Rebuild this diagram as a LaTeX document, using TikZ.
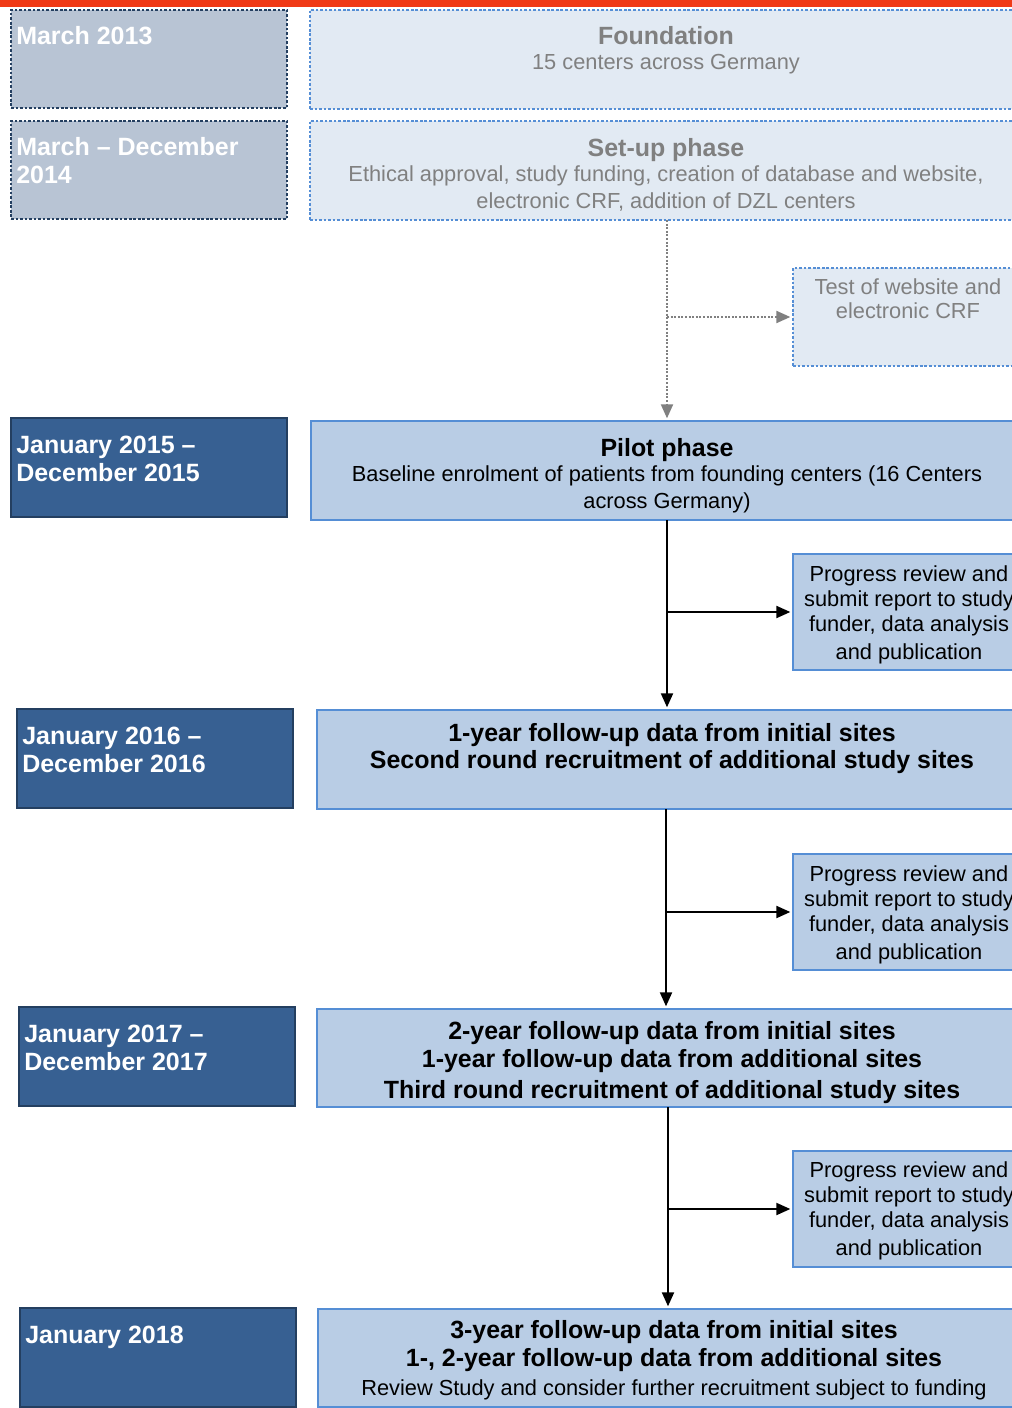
\documentclass[tikz,border=0pt]{standalone}
\usepackage{fontspec}
\setmainfont{Liberation Sans}
\usetikzlibrary{arrows.meta,calc}
\definecolor{topred}{HTML}{F03A17}
\definecolor{lgray}{HTML}{B8C4D4}
\definecolor{navy}{HTML}{376092}
\definecolor{navyb}{HTML}{243F60}
\definecolor{pale}{HTML}{E2EAF3}
\definecolor{dotblue}{HTML}{558ED5}
\definecolor{mblue}{HTML}{B9CDE5}
\definecolor{bblue}{HTML}{558ED5}
\definecolor{txtgray}{HTML}{808080}
\newcommand\boxat[6]{\node[#1, anchor=north west, inner sep=0pt, outer sep=0pt,
  minimum width={(#5-#3)*0.75pt}, minimum height={(#6-#4)*0.75pt}] (#2) at (#3,#4) {};}
\tikzset{
  lightlbl/.style={fill=lgray, draw=navyb, line width=2pt, dash pattern=on 2pt off 1.4pt},
  darklbl/.style={fill=navy, draw=navyb, line width=1.6pt},
  dotbox/.style={fill=pale, draw=dotblue, line width=2pt, dash pattern=on 2pt off 1.4pt},
  mainbox/.style={fill=mblue, draw=bblue, line width=1.9pt},
  lbltext/.style={text=white, font=\fontsize{18.75}{22}\selectfont\bfseries, inner sep=0pt, anchor=base west},
  hd/.style={font=\fontsize{18.7}{21}\selectfont\bfseries, inner sep=0pt, anchor=base},
  rg/.style={font=\fontsize{16.35}{19}\selectfont, inner sep=0pt, anchor=base},
  gr/.style={text=txtgray},
  arr/.style={draw=black, line width=1.5pt, -{Triangle[length=10.5pt,width=9pt]}},
  garr/.style={draw=txtgray, line width=1.5pt, dash pattern=on 1.5pt off 1.2pt,
    -{Triangle[length=10.5pt,width=9pt,fill=txtgray]}},
}
\begin{document}
\begin{tikzpicture}[x=0.75pt,y=-0.75pt]
\useasboundingbox (0,0) rectangle (1012,1408);
\clip (0,0) rectangle (1012,1408);
\fill[topred] (0,0) rectangle (1012,7);

% left labels
\boxat{lightlbl}{L1}{11}{10}{287}{108}
\boxat{lightlbl}{L2}{11}{121}{287}{219}
\boxat{darklbl}{L3}{11}{418}{287}{517}
\boxat{darklbl}{L4}{17}{709}{293}{808}
\boxat{darklbl}{L5}{19}{1007}{295}{1106}
\boxat{darklbl}{L6}{20}{1308}{296}{1407}

\node[lbltext] (t1) at (16,45) {March 2013};
\node[lbltext] (t2a) at (16,156) {March -- December};
\node[lbltext] (t2b) at (16,184) {2014};
\node[lbltext] (t3a) at (16,453) {January 2015 --};
\node[lbltext] (t3b) at (16,481) {December 2015};
\node[lbltext] (t4a) at (22,744) {January 2016 --};
\node[lbltext] (t4b) at (22,772) {December 2016};
\node[lbltext] (t5a) at (24,1042) {January 2017 --};
\node[lbltext] (t5b) at (24,1070) {December 2017};
\node[lbltext] (t6a) at (25,1343) {January 2018};

% top dotted boxes
\boxat{dotbox}{F}{310}{10}{1024}{109}
\boxat{dotbox}{S}{310}{121}{1024}{220}
\boxat{dotbox}{T}{793}{268}{1025}{366}
\node[hd,gr] (f1) at (666,45) {Foundation};
\node[rg,gr] (f2) at (666,70) {15 centers across Germany};
\node[hd,gr] (s1) at (666,157) {Set-up phase};
\node[rg,gr] (s2) at (666,182) {Ethical approval, study funding, creation of database and website,};
\node[rg,gr] (s3) at (666,209) {electronic CRF, addition of DZL centers};
\node[rg,gr] (tt1) at (908,295) {Test of website and};
\node[rg,gr] (tt2) at (908,319) {electronic CRF};

% main boxes
\boxat{mainbox}{P}{311}{421}{1023}{520}
\boxat{mainbox}{B4}{317}{710}{1015}{809}
\boxat{mainbox}{B5}{317}{1009}{1019}{1107}
\boxat{mainbox}{B6}{318}{1309}{1018}{1407}
\boxat{mainbox}{R1}{793}{554}{1025}{670}
\boxat{mainbox}{R2}{793}{854}{1025}{970}
\boxat{mainbox}{R3}{793}{1151}{1025}{1267}

\node[hd] (p1) at (667,456) {Pilot phase};
\node[rg] (p2) at (667,481) {Baseline enrolment of patients from founding centers (16 Centers};
\node[rg] (p3) at (667,508) {across Germany)};

\node[hd] (b41) at (672,741) {1-year follow-up data from initial sites};
\node[hd] (b42) at (672,768) {Second round recruitment of additional study sites};

\node[hd] (b51) at (672,1039) {2-year follow-up data from initial sites};
\node[hd] (b52) at (672,1067) {1-year follow-up data from additional sites};
\node[hd] (b53) at (672,1098) {Third round recruitment of additional study sites};

\node[hd] (b61) at (674,1338) {3-year follow-up data from initial sites};
\node[hd] (b62) at (674,1366) {1-, 2-year follow-up data from additional sites};
\node[rg] (b63) at (674,1395) {Review Study and consider further recruitment subject to funding};

\foreach \r/\y in {R1/581, R2/881, R3/1177}{
  \node[rg] (\r a) at (909,\y) {Progress review and};
  \node[rg] (\r b) at (909,\y+25) {submit report to study};
  \node[rg] (\r c) at (909,\y+50) {funder, data analysis};
  \node[rg] (\r d) at (909,\y+78) {and publication};
}

% connectors
\draw[garr, shorten >=2pt] (S.south) -- (S.south |- P.north);
\draw[garr, shorten >=2pt] (S.south |- T.west) -- (T.west);
\draw[arr, shorten >=2pt] (P.south) -- (P.south |- B4.north);
\draw[arr, shorten >=2pt] (P.south |- R1.west) -- (R1.west);
\draw[arr, shorten >=2pt] (B4.south) -- (B4.south |- B5.north);
\draw[arr, shorten >=2pt] (B4.south |- R2.west) -- (R2.west);
\draw[arr, shorten >=2pt] (B5.south) -- (B5.south |- B6.north);
\draw[arr, shorten >=2pt] (B5.south |- R3.west) -- (R3.west);
\end{tikzpicture}
\end{document}
